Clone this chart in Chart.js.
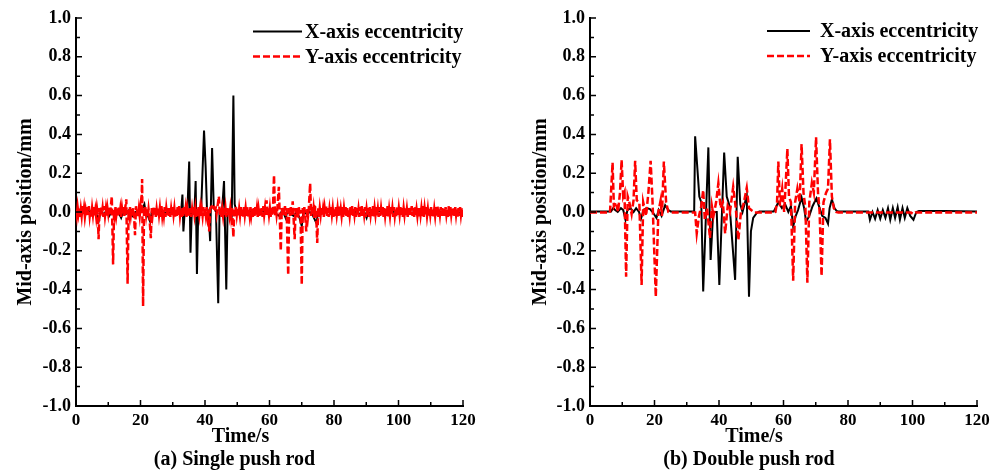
<!DOCTYPE html>
<html>
<head>
<meta charset="utf-8">
<script src="https://cdn.jsdelivr.net/npm/chart.js@4.4.1/dist/chart.umd.min.js"></script>
<style>
  html, body { margin: 0; padding: 0; background: #fff; }
  #wrap { position: relative; width: 999px; height: 473px; overflow: hidden; }
  canvas { position: absolute; top: 0; }
</style>
</head>
<body>
<div id="wrap">
  <canvas id="single" width="500" height="473" style="left:0"></canvas>
  <canvas id="double" width="499" height="473" style="left:500px"></canvas>
</div>
<script>
// (a) single push rod - X axis eccentricity (black)
const singleXTime = [
  0, 1, 2, 3, 4, 5, 6, 7.1, 7.6, 8.5,
  9.5, 10.3, 11, 12, 13, 14, 14.6, 15.5, 16.5, 17.5,
  18.5, 19.5, 20.4, 21.2, 21.6, 22.3, 23, 23.5, 24.5, 26,
  28, 30, 31.5, 32.6, 33, 33.3, 33.7, 34.5, 35.1, 35.5,
  35.9, 36.7, 37.1, 37.5, 37.9, 38.8, 39.7, 40.2, 40.6, 41.1,
  41.6, 42.2, 42.7, 43.4, 44.1, 44.5, 45.3, 45.9, 46.6, 47,
  47.8, 48.3, 48.8, 49.2, 49.8, 51, 53, 55, 57, 59,
  60, 61, 61.5, 62, 63, 64, 65, 65.5, 66.5, 67.5,
  68.5, 69.3, 70, 70.5, 71.5, 72.5, 73.5, 74.6, 75, 76,
  78, 80, 82, 84, 86, 88, 89.5, 90.1, 90.6, 92,
  94, 96, 98, 100, 102, 104, 106, 108, 110, 112,
  114, 116, 118, 120
];
const singleX = [
  0, -0.005, 0.005, -0.01, 0.005, -0.01, 0, -0.04, 0, -0.01,
  0.005, -0.02, 0, -0.01, 0.005, -0.03, 0, -0.01, 0.01, -0.02,
  0, -0.01, 0.01, 0.04, 0, -0.02, -0.05, 0, -0.005, 0.005,
  -0.005, 0.005, -0.005, 0, 0.09, -0.1, 0, -0.01, 0.26, -0.21,
  0, -0.01, 0.16, -0.32, 0, 0.01, 0.42, 0.23, 0.02, 0,
  -0.15, 0.33, 0.03, 0, -0.47, 0, 0.01, 0.16, -0.4, 0,
  0.01, -0.01, 0.6, 0.04, 0, -0.005, 0.005, -0.005, 0.005, 0,
  0.01, 0.02, 0, -0.01, -0.02, 0.01, -0.03, 0, -0.01, -0.02,
  0, -0.03, -0.072, 0, -0.01, 0, -0.02, -0.06, 0, -0.005,
  0.005, -0.005, 0.005, -0.005, 0.005, -0.01, -0.005, -0.03, 0, -0.01,
  0.005, -0.005, 0.005, -0.01, 0, -0.005, 0.005, -0.005, 0, -0.005,
  0.005, -0.005, 0, -0.005
];

// (a) single push rod - Y axis eccentricity (red dashed)
const singleYTime = [
  0, 0.25, 0.5, 0.75, 1, 1.25, 1.5, 1.75, 2, 2.25,
  2.5, 2.75, 3, 3.25, 3.5, 3.75, 4, 4.25, 4.5, 4.75,
  5, 5.25, 5.5, 5.75, 6, 6.25, 6.5, 6.75, 7, 7.3,
  7.5, 7.75, 8, 8.25, 8.5, 8.75, 9, 9.25, 9.5, 9.75,
  10, 10.25, 10.5, 10.75, 11.1, 11.5, 11.8, 12, 12.25, 12.5,
  12.75, 13, 13.25, 13.5, 13.75, 14, 14.25, 14.5, 14.75, 15,
  15.25, 15.6, 16, 16.3, 16.5, 16.75, 17, 17.25, 17.5, 17.75,
  18, 18.3, 18.6, 18.8, 19, 19.25, 19.5, 19.75, 20, 20.25,
  20.5, 20.8, 21.1, 21.3, 21.5, 21.75, 22, 22.25, 22.5, 22.75,
  23.2, 23.5, 23.75, 24, 24.25, 24.5, 24.75, 25, 25.25, 25.5,
  25.75, 26, 26.25, 26.5, 26.75, 27, 27.25, 27.5, 27.75, 28,
  28.25, 28.5, 28.75, 29, 29.25, 29.5, 29.75, 30, 30.25, 30.5,
  30.75, 31, 31.25, 31.5, 31.75, 32, 32.25, 32.5, 32.75, 33,
  33.25, 33.5, 33.75, 34, 34.25, 34.5, 34.75, 35, 35.25, 35.5,
  35.75, 36, 36.25, 36.5, 36.75, 37, 37.25, 37.5, 37.75, 38,
  38.25, 38.5, 38.75, 39, 39.25, 39.5, 39.75, 40, 40.25, 40.5,
  40.75, 41, 41.3, 41.6, 41.85, 42.1, 42.35, 42.6, 42.85, 43.1,
  43.35, 43.6, 43.85, 44.3, 44.6, 44.85, 45.1, 45.35, 45.6, 45.85,
  46.1, 46.35, 46.6, 46.85, 47.1, 47.35, 47.6, 47.85, 48.1, 48.4,
  48.8, 49.1, 49.35, 49.6, 49.85, 50.1, 50.35, 50.6, 50.85, 51.1,
  51.35, 51.6, 51.85, 52.1, 52.35, 52.6, 52.85, 53.1, 53.35, 53.6,
  53.85, 54.1, 54.35, 54.6, 54.85, 55.1, 55.35, 55.6, 55.85, 56.1,
  56.35, 56.6, 56.85, 57.1, 57.35, 57.6, 57.85, 58.1, 58.35, 58.6,
  58.85, 59.1, 59.35, 59.6, 59.85, 60.1, 60.35, 60.6, 60.85, 61.1,
  61.4, 61.7, 61.95, 62.2, 62.45, 62.9, 63.5, 63.8, 64.05, 64.3,
  64.55, 64.8, 65.05, 65.3, 65.8, 66.1, 66.35, 66.6, 66.85, 67.2,
  67.8, 68.1, 68.35, 68.6, 68.85, 69.1, 69.35, 69.6, 70, 70.3,
  70.55, 70.8, 71.05, 71.4, 71.7, 71.95, 72.2, 72.6, 72.9, 73.15,
  73.4, 73.65, 73.9, 74.15, 74.4, 74.8, 75.1, 75.35, 75.6, 75.85,
  76.1, 76.35, 76.6, 76.85, 77.1, 77.35, 77.6, 77.85, 78.1, 78.35,
  78.6, 78.85, 79.1, 79.35, 79.6, 79.85, 80.1, 80.35, 80.6, 80.85,
  81.1, 81.35, 81.6, 81.85, 82.1, 82.35, 82.6, 82.85, 83.1, 83.35,
  83.6, 83.85, 84.1, 84.35, 84.6, 84.85, 85.1, 85.35, 85.6, 85.85,
  86.1, 86.35, 86.6, 86.85, 87.1, 87.35, 87.6, 87.85, 88.1, 88.35,
  88.6, 88.85, 89.1, 89.35, 89.6, 89.85, 90.1, 90.35, 90.6, 90.85,
  91.1, 91.35, 91.6, 91.85, 92.1, 92.35, 92.6, 92.85, 93.1, 93.35,
  93.6, 93.85, 94.1, 94.35, 94.6, 94.85, 95.1, 95.35, 95.6, 95.85,
  96.1, 96.35, 96.6, 96.85, 97.1, 97.35, 97.6, 97.85, 98.1, 98.35,
  98.6, 98.85, 99.1, 99.35, 99.6, 99.85, 100.1, 100.35, 100.6, 100.85,
  101.1, 101.35, 101.6, 101.85, 102.1, 102.35, 102.6, 102.85, 103.1, 103.35,
  103.6, 103.85, 104.1, 104.35, 104.6, 104.85, 105.1, 105.35, 105.6, 105.85,
  106.1, 106.35, 106.6, 106.85, 107.1, 107.35, 107.6, 107.85, 108.1, 108.35,
  108.6, 108.85, 109.1, 109.35, 109.6, 109.85, 110.1, 110.35, 110.6, 110.85,
  111.1, 111.35, 111.6, 111.85, 112.1, 112.35, 112.6, 112.85, 113.1, 113.35,
  113.6, 113.85, 114.1, 114.35, 114.6, 114.85, 115.1, 115.35, 115.6, 115.85,
  116.1, 116.35, 116.6, 116.85, 117.1, 117.35, 117.6, 117.85, 118.1, 118.35,
  118.6, 118.85, 119.1, 119.35, 119.6, 119.85, 120
];
const singleY = [
  0.01, -0.02, 0.025, -0.01, 0.02, -0.025, 0.015, -0.02, 0.03, -0.015,
  0.02, -0.025, 0.01, -0.02, 0.025, -0.015, 0.03, -0.02, 0.015, -0.025,
  0.02, -0.015, 0.025, -0.02, 0.01, -0.025, 0.02, -0.01, -0.14, 0.02,
  -0.02, 0.025, -0.015, 0.02, -0.025, 0.03, -0.02, 0.015, -0.025, 0.02,
  -0.01, 0.025, -0.02, 0.02, 0.08, -0.27, 0.01, -0.02, 0.025, -0.015,
  0.02, -0.025, 0.03, -0.02, 0.015, -0.025, 0.02, -0.015, 0.025, -0.02,
  0.02, 0.065, -0.37, 0.01, -0.02, 0.025, -0.015, 0.02, -0.025, 0.02,
  -0.02, -0.12, 0.03, -0.015, 0.02, -0.025, 0.015, -0.02, 0.025, -0.01,
  0.17, -0.485, 0.02, -0.02, 0.025, -0.015, 0.02, -0.025, 0.015, -0.02,
  -0.135, 0.02, -0.015, 0.025, -0.02, 0.02, -0.025, 0.015, -0.02, 0.025,
  -0.015, 0.02, -0.025, 0.03, -0.02, 0.015, -0.02, 0.025, -0.025, 0.02,
  -0.015, 0.025, -0.02, 0.02, -0.025, 0.015, -0.02, 0.025, -0.015, 0.02,
  -0.025, 0.02, -0.02, 0.025, -0.015, 0.03, -0.02, 0.015, -0.025, 0.02,
  -0.02, 0.025, -0.015, 0.02, -0.025, 0.015, -0.02, 0.025, -0.02, 0.02,
  -0.025, 0.015, -0.02, 0.025, -0.015, 0.02, -0.025, 0.02, -0.02, 0.025,
  -0.015, 0.02, -0.025, 0.015, -0.02, 0.025, -0.02, 0.02, -0.015, 0.025,
  -0.02, 0.015, -0.1, 0.02, 0.025, 0.015, 0.025, 0.02, 0.025, 0.015,
  0.02, -0.01, 0.025, 0.08, -0.02, 0.02, -0.025, 0.015, -0.02, 0.025,
  -0.015, 0.02, -0.025, 0.02, -0.02, 0.025, -0.015, 0.02, -0.025, 0.02,
  -0.13, 0.02, -0.02, 0.025, -0.015, 0.02, -0.025, 0.015, -0.02, 0.025,
  -0.02, 0.02, -0.025, 0.03, -0.015, 0.02, -0.02, 0.025, -0.025, 0.015,
  -0.02, 0.025, -0.015, 0.02, -0.025, 0.02, -0.02, 0.025, -0.015, 0.02,
  -0.025, 0.015, -0.02, 0.025, -0.02, 0.02, -0.025, 0.03, -0.015, 0.02,
  -0.02, 0.06, -0.02, 0.025, -0.015, 0.02, -0.025, 0.02, -0.02, 0.025,
  0.19, -0.02, 0.025, -0.015, 0.02, 0.13, -0.2, 0.02, -0.02, 0.025,
  -0.015, 0.03, -0.02, 0.02, -0.325, 0.02, -0.02, 0.025, -0.015, 0.055,
  -0.14, 0.02, -0.025, 0.02, -0.03, 0.025, -0.015, 0.01, -0.376, 0.02,
  -0.02, 0.025, -0.015, -0.1, 0.02, -0.02, 0.02, 0.148, -0.02, 0.025,
  -0.015, 0.02, -0.03, 0.025, 0.02, -0.16, 0.02, -0.025, 0.02, -0.015,
  0.025, -0.02, 0.015, -0.025, 0.02, -0.015, 0.03, -0.02, 0.02, -0.025,
  0.015, -0.02, 0.025, -0.015, 0.02, -0.025, 0.02, -0.02, 0.025, -0.015,
  0.02, -0.025, 0.03, -0.02, 0.015, -0.02, 0.025, -0.025, 0.02, -0.015,
  0.025, -0.02, 0.02, -0.025, 0.015, -0.02, 0.025, -0.015, 0.03, -0.02,
  0.02, -0.015, 0.025, -0.025, 0.02, -0.02, 0.015, -0.025, 0.025, -0.02,
  0.03, -0.02, 0.02, -0.015, 0.025, -0.025, 0.015, -0.02, 0.02, -0.025,
  0.025, -0.015, 0.02, -0.02, 0.03, -0.025, 0.02, -0.015, 0.025, -0.02,
  0.015, -0.025, 0.025, -0.02, 0.02, -0.015, 0.025, -0.025, 0.02, -0.02,
  0.02, -0.02, 0.03, -0.025, 0.015, -0.02, 0.025, -0.015, 0.02, -0.025,
  0.025, -0.02, 0.015, -0.025, 0.03, -0.02, 0.02, -0.015, 0.025, -0.02,
  0.02, -0.025, 0.02, -0.015, 0.025, -0.02, 0.015, -0.025, 0.02, -0.02,
  0.025, -0.015, 0.03, -0.02, 0.02, -0.025, 0.025, -0.02, 0.015, -0.02,
  0.02, -0.025, 0.025, -0.015, 0.02, -0.02, 0.03, -0.025, 0.02, -0.015,
  0.025, -0.02, 0.015, -0.025, 0.02, -0.015, 0.025, -0.02, 0.02, -0.025,
  0.015, -0.02, 0.025, -0.02, 0.03, -0.025, 0.02, -0.015, 0.025, -0.02,
  0.02, -0.025, 0.02, -0.02, 0.025, -0.015, 0.015, -0.025, 0.03, -0.02,
  0.025, -0.015, 0.02, -0.025, 0.02, -0.02, 0.025, -0.015, 0.02, -0.025,
  0.02, -0.02, 0.025, -0.015, 0.02, -0.025, 0.01
];

// (b) double push rod - X axis eccentricity (black)
const doubleXTime = [
  0, 6.5, 7.2, 7.8, 8.6, 9.6, 10.3, 11, 11.6, 12.5,
  13.5, 14.3, 15.2, 15.8, 16.6, 17.5, 18.6, 19.4, 20.6, 21.3,
  22.2, 22.8, 23.3, 24.3, 25, 32.3, 32.6, 33.9, 34.5, 35.1,
  36.7, 37.4, 38.2, 39.3, 40.1, 41.6, 42.4, 43.3, 45, 45.8,
  46.6, 47.3, 48.6, 49.3, 49.9, 50.6, 51.7, 52.5, 57, 58.4,
  59.5, 60.5, 61.5, 62.3, 63, 63.8, 64.5, 65.6, 66.4, 67,
  68, 69, 70.2, 71, 72, 73, 73.8, 74.3, 75, 75.8,
  76.5, 77, 86.3, 86.8, 87.6, 88.4, 89.2, 90, 90.8, 91.6,
  92.4, 93.1, 93.9, 94.6, 95.4, 96.1, 96.9, 97.6, 98.4, 99.3,
  100.3, 101.2, 102, 110, 120
];
const doubleX = [
  0.003, 0.003, 0.02, 0.01, 0, 0.02, 0.01, -0.04, 0.01, 0.02,
  0, 0.02, 0, -0.035, 0.01, 0.02, 0.015, 0, -0.03, 0.01,
  -0.02, 0.01, 0.035, 0.01, 0.003, 0.003, 0.39, 0.08, 0.05, -0.41,
  0.333, -0.247, 0, 0, -0.376, 0.306, 0.08, 0.03, -0.35, 0.285,
  0.04, 0, 0.085, -0.437, -0.1, -0.03, -0.005, 0.003, 0.003, 0.05,
  0.02, 0.04, 0, 0.03, -0.075, -0.02, 0.01, 0.075, 0.02, -0.05,
  -0.02, 0.03, 0.07, 0.03, -0.02, -0.03, -0.06, 0.02, 0.065, 0.02,
  0.005, 0.003, 0.003, -0.04, 0, -0.035, 0.01, -0.035, 0.01, -0.03,
  0.02, -0.04, 0.02, -0.03, 0.025, -0.04, 0.02, -0.03, 0.02, -0.02,
  -0.04, 0, 0.005, 0.005, 0.003
];

// (b) double push rod - Y axis eccentricity (red dashed)
const doubleYTime = [
  0, 6.2, 7.0, 7.4, 8.0, 8.7, 9.3, 9.8, 10.3, 10.7,
  11.2, 11.7, 12.2, 12.9, 13.5, 14.0, 14.5, 15.3, 16.0, 16.5,
  17.4, 18.1, 18.8, 19.4, 20.4, 21.2, 21.9, 22.3, 22.9, 23.6,
  24.3, 25, 32.6, 33.1, 33.8, 34.5, 35.1, 35.6, 36.3, 37.2,
  37.8, 38.3, 39.1, 39.8, 40.5, 41.2, 41.9, 42.7, 43.4, 44.4,
  45.2, 46, 46.8, 47.6, 48.6, 49.3, 50, 51, 56.5, 57.5,
  58, 58.4, 58.9, 59.6, 60.2, 60.7, 61.2, 61.7, 62.3, 63.0,
  63.6, 64.3, 65.0, 65.6, 66.2, 66.8, 67.4, 68.0, 68.8, 69.4,
  70.1, 70.7, 71.2, 71.8, 72.4, 73.2, 73.8, 74.4, 75.0, 75.6,
  76.3, 77, 99.5, 100.2, 100.9, 120
];
const doubleY = [
  -0.003, -0.003, 0.254, 0.03, 0.05, 0, 0.1, 0.268, 0.08, 0.1,
  -0.333, 0.08, 0.05, -0.01, 0.06, 0.264, 0.06, 0.05, -0.376, 0.05,
  -0.02, 0.1, 0.264, 0.05, -0.437, 0, 0.06, -0.02, 0.26, 0.05,
  0, -0.003, -0.003, -0.11, -0.02, 0.03, 0.113, -0.04, 0.02, -0.135,
  0.03, -0.02, 0.05, 0.148, 0.02, 0.05, -0.11, 0.03, 0, 0.13,
  0.02, -0.144, 0, 0.04, 0.124, 0.02, 0.01, -0.003, -0.003, 0,
  0.05, 0.26, 0.03, 0.12, 0, 0.15, 0.325, 0.08, 0.05, -0.354,
  0.05, 0.12, 0.05, 0.35, 0.1, 0.02, -0.364, 0.05, 0.15, 0.1,
  0.385, 0.1, 0, -0.33, 0.05, 0.1, 0.12, 0.375, 0.08, 0.02,
  0, -0.003, -0.003, -0.01, -0.003, -0.003
];

const seriesLabels = ['X-axis eccentricity', 'Y-axis eccentricity'];
const xTitle = 'Time/s';
const yTitle = 'Mid-axis position/mm';

const FONT = "'Liberation Serif', 'Times New Roman', serif";
Chart.defaults.font.family = FONT;
Chart.defaults.font.weight = 'bold';
Chart.defaults.color = '#000';

const toPoints = (ts, vs) => ts.map((t, i) => ({ x: t, y: vs[i] }));

// small inward ticks, majors from the scale, minors half way between
const innerTicks = {
  id: 'innerTicks',
  afterDatasetsDraw(chart) {
    const { ctx, chartArea: a, scales: { x, y } } = chart;
    ctx.save();
    ctx.strokeStyle = '#000';
    ctx.lineWidth = 1.5;
    ctx.beginPath();
    x.ticks.forEach((t, i) => {
      const px = x.getPixelForValue(t.value);
      ctx.moveTo(px, a.bottom); ctx.lineTo(px, a.bottom - 6);
      if (i < x.ticks.length - 1) {
        const mx = x.getPixelForValue((t.value + x.ticks[i + 1].value) / 2);
        ctx.moveTo(mx, a.bottom); ctx.lineTo(mx, a.bottom - 4);
      }
    });
    y.ticks.forEach((t, i) => {
      const py = y.getPixelForValue(t.value);
      ctx.moveTo(a.left, py); ctx.lineTo(a.left + 6, py);
      if (i < y.ticks.length - 1) {
        const my = y.getPixelForValue((t.value + y.ticks[i + 1].value) / 2);
        ctx.moveTo(a.left, my); ctx.lineTo(a.left + 4, my);
      }
    });
    ctx.stroke();
    ctx.restore();
  }
};

// legend inside the plot, and the x title + panel caption below
const panelText = {
  id: 'panelText',
  afterDraw(chart, args, opts) {
    const { ctx } = chart;
    ctx.save();
    chart.data.datasets.forEach((ds, i) => {
      const ly = opts.legendRows[i];
      ctx.strokeStyle = ds.borderColor;
      ctx.lineWidth = ds.borderWidth;
      ctx.setLineDash(ds.borderDash || []);
      ctx.beginPath();
      ctx.moveTo(opts.legendX, ly);
      ctx.lineTo(opts.legendX + opts.legendW, ly);
      ctx.stroke();
      ctx.setLineDash([]);
      ctx.fillStyle = '#000';
      ctx.font = 'bold 20px ' + FONT;
      ctx.textAlign = 'left';
      ctx.textBaseline = 'middle';
      ctx.fillText(ds.label, opts.legendTextX, ly + 1);
    });
    ctx.fillStyle = '#000';
    ctx.font = 'bold 20px ' + FONT;
    ctx.textAlign = 'center';
    ctx.textBaseline = 'alphabetic';
    ctx.fillText(xTitle, opts.xTitleX, 442);
    ctx.fillText(opts.caption, opts.captionX, 465);
    ctx.restore();
  }
};

function makePanel(id, p) {
  return new Chart(document.getElementById(id), {
    type: 'line',
    data: {
      datasets: [
        {
          label: seriesLabels[0],
          data: toPoints(p.xTime, p.xVals),
          borderColor: '#000000',
          borderWidth: 2,
          pointRadius: 0,
          tension: 0,
          order: 1
        },
        {
          label: seriesLabels[1],
          data: toPoints(p.yTime, p.yVals),
          borderColor: '#ff0000',
          borderWidth: 2.5,
          borderDash: [7, 3],
          pointRadius: 0,
          tension: 0,
          order: 0
        }
      ]
    },
    options: {
      responsive: false,
      animation: false,
      layout: { padding: { left: p.padLeft, right: p.padRight, top: 18, bottom: 0 } },
      plugins: {
        legend: { display: false },
        tooltip: { enabled: false },
        panelText: p.text
      },
      scales: {
        x: {
          type: 'linear',
          min: 0,
          max: 120,
          grid: { drawOnChartArea: false, drawTicks: false },
          border: { display: true, color: '#000', width: 2 },
          ticks: {
            stepSize: 20,
            padding: 4,
            maxRotation: 0,
            font: { size: 17, weight: 'bold' },
            callback: (v) => String(Math.round(v))
          },
          afterFit: (s) => { s.height = 67; }
        },
        y: {
          min: -1,
          max: 1,
          grid: { drawOnChartArea: false, drawTicks: false },
          border: { display: true, color: '#000', width: 2 },
          ticks: {
            stepSize: 0.2,
            padding: 5,
            font: { size: 18, weight: 'bold' },
            callback: (v) => (Math.abs(v) < 1e-9 ? '0.0' : Number(v).toFixed(1))
          },
          title: {
            display: true,
            text: yTitle,
            padding: 0,
            font: { size: 20, weight: 'bold' }
          },
          afterFit: (s) => { s.width = p.axisW; }
        }
      }
    },
    plugins: [innerTicks, panelText]
  });
}

makePanel('single', {
  xTime: singleXTime, xVals: singleX, yTime: singleYTime, yVals: singleY,
  padLeft: 14, padRight: 37, axisW: 62,
  text: {
    legendX: 253, legendW: 49, legendTextX: 305, legendRows: [31.5, 56.5],
    xTitleX: 240.5, captionX: 234.5, caption: '(a) Single push rod'
  }
});

makePanel('double', {
  xTime: doubleXTime, xVals: doubleX, yTime: doubleYTime, yVals: doubleY,
  padLeft: 29, padRight: 22, axisW: 61,
  text: {
    legendX: 267, legendW: 43, legendTextX: 320, legendRows: [31, 56],
    xTitleX: 254, captionX: 249, caption: '(b) Double push rod'
  }
});
</script>
</body>
</html>
